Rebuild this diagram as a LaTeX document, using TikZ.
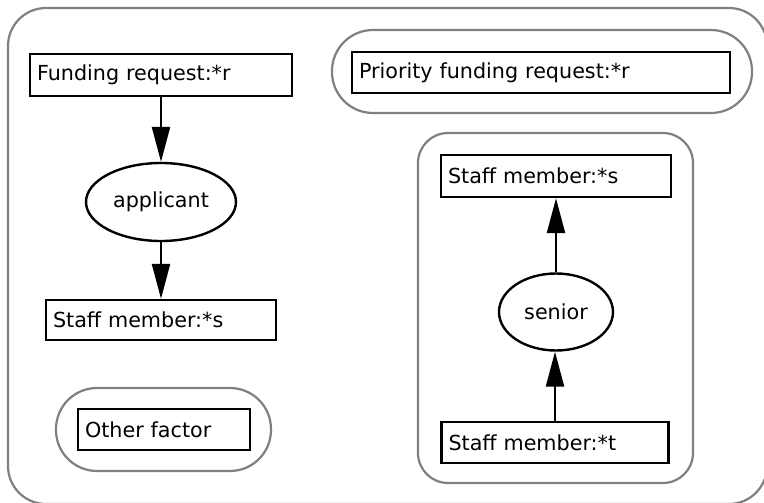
\documentclass[tikz,border=0pt]{standalone}
\usepackage{fontspec}
\setmainfont{DejaVu Sans}
\usetikzlibrary{shapes.geometric,arrows.meta}
\definecolor{framegray}{RGB}{128,128,128}
\begin{document}
\begin{tikzpicture}[x=1pt,y=-1pt,
  every node/.style={font=\fontsize{20.7}{24}\selectfont},
  termbox/.style={draw=black, line width=2.4pt, rectangle, inner xsep=7pt, inner ysep=0pt, align=left, minimum height=#1},
  termbox/.default=41pt,
  relell/.style={draw=black, line width=2.4pt, ellipse, inner sep=0pt},
  ctx/.style={draw=framegray, line width=2.2pt},
  rel/.style={line width=2.4pt, -{Triangle[length=35pt,width=18pt]}}]
\useasboundingbox (0,0) rectangle (764,503);
\clip (0,0) rectangle (764,503);
\fill[white] (0,0) rectangle (764,503);
% outer context
\draw[ctx, rounded corners=38pt] (8,8) rectangle (767,504);
% priority context
\draw[ctx, rounded corners=41pt] (332,30) rectangle (752,113);
% other factor context
\draw[ctx, rounded corners=41pt] (56,388) rectangle (271,471);
% right context
\draw[ctx, rounded corners=30pt] (418,133) rectangle (693,483);
% nodes
\node[termbox=42pt, text width=248pt] (fr) at (161,75) {Funding request:*r};
\node[relell, minimum width=150pt, minimum height=78pt] (app) at (161,202) {applicant};
\node[termbox=40pt, text width=216pt] (sl) at (161,320) {Staff member:*s};
\node[termbox, text width=158pt] (of) at (164,429.5) {Other factor};
\node[termbox, text width=364pt] (pr) at (541,72.5) {Priority funding request:*r};
\node[termbox=42pt, text width=216pt] (sr) at (556,176) {Staff member:*s};
\node[relell, minimum width=114pt, minimum height=77pt] (sen) at (556,312) {senior};
\node[termbox, text width=213pt] (st) at (555,442.5) {Staff member:*t};
% connectors
\draw[rel] (fr.south) -- (app.north);
\draw[rel] (app.south) -- (sl.north);
\draw[rel] (st.north) -- (sen.south -| st.north);
\draw[rel] (sen.north) -- (sr.south -| sen.north);
\end{tikzpicture}
\end{document}
